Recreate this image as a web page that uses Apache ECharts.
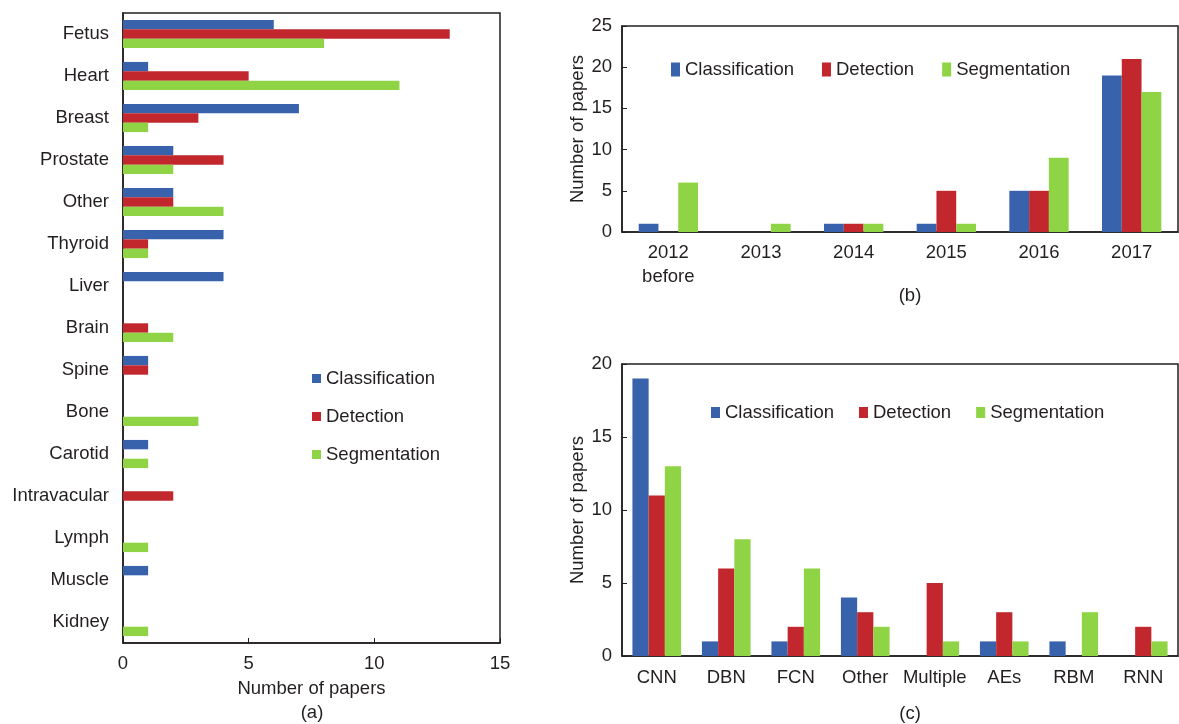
<!DOCTYPE html>
<html>
<head>
<meta charset="utf-8">
<script src="https://cdn.jsdelivr.net/npm/echarts@6/dist/echarts.min.js"></script>
<style>
html,body{margin:0;padding:0;background:#fff;}
#main{width:1179px;height:724px;}
</style>
</head>
<body>
<div id="main"></div>
<script>
// ---- Data ----
const seriesNames = ['Classification', 'Detection', 'Segmentation'];

// (a) by anatomy
const organs = ['Fetus','Heart','Breast','Prostate','Other','Thyroid','Liver','Brain','Spine','Bone','Carotid','Intravacular','Lymph','Muscle','Kidney'];
const organClassification = [6,1,7,2,2,4,4,0,1,0,1,0,0,1,0];
const organDetection      = [13,5,3,4,2,1,0,1,1,0,0,2,0,0,0];
const organSegmentation   = [8,11,1,2,4,1,0,2,0,3,1,0,1,0,1];

// (b) by year
const years = ['2012\nbefore','2013','2014','2015','2016','2017'];
const yearClassification = [1,0,1,1,5,19];
const yearDetection      = [0,0,1,5,5,21];
const yearSegmentation   = [6,1,1,1,9,17];

// (c) by method
const methods = ['CNN','DBN','FCN','Other','Multiple','AEs','RBM','RNN'];
const methodClassification = [19,1,1,4,0,1,1,0];
const methodDetection      = [11,6,2,3,5,3,0,2];
const methodSegmentation   = [13,8,6,2,1,1,3,1];

// ---- Styling ----
const colors = ['#3862ac', '#c1272d', '#8fd444'];
const FONT = 'Liberation Sans, Arial, sans-serif';
const FS = 18.5;
const TXT = '#231f20';
const AX = '#231f20';

const chart = echarts.init(document.getElementById('main'), null, {renderer: 'canvas'});

function lbl(extra) {
  return Object.assign({color: TXT, fontSize: FS, fontFamily: FONT}, extra);
}
function valueAxisCommon(extra) {
  return Object.assign({
    type: 'value',
    axisLine: {show: true, lineStyle: {color: AX, width: 1.5}},
    axisTick: {show: true, inside: true, length: 5, lineStyle: {color: AX}},
    splitLine: {show: false},
    axisLabel: lbl({}),
    nameTextStyle: lbl({})
  }, extra);
}
function catAxisCommon(extra) {
  return Object.assign({
    type: 'category',
    axisLine: {show: true, lineStyle: {color: AX, width: 1.5}},
    axisTick: {show: false},
    splitLine: {show: false},
    axisLabel: lbl({interval: 0})
  }, extra);
}
function barSeries(name, data, xi, yi, colorIdx, gap) {
  return {
    name: name, type: 'bar', data: data,
    xAxisIndex: xi, yAxisIndex: yi,
    barGap: '0%', barCategoryGap: gap,
    itemStyle: {color: colors[colorIdx]},
    animation: false
  };
}
const legendText = lbl({});
const titleStyle = {color: TXT, fontSize: FS, fontWeight: 'normal', fontFamily: FONT};

const option = {
  backgroundColor: '#fff',
  color: colors,
  animation: false,
  title: [
    {text: '(a)', left: 307, top: 698, textAlign: 'center', textStyle: titleStyle},
    {text: '(b)', left: 905, top: 281, textAlign: 'center', textStyle: titleStyle},
    {text: '(c)', left: 905, top: 699, textAlign: 'center', textStyle: titleStyle}
  ],
  legend: [
    {data: seriesNames, orient: 'vertical', left: 312, top: 369, padding: 0, itemWidth: 9, itemHeight: 9, itemGap: 19, textStyle: legendText, icon: 'rect', selectedMode: false},
    {data: seriesNames, orient: 'horizontal', left: 671, top: 60, padding: 0, itemWidth: 9, itemHeight: 14, itemGap: 28, textStyle: legendText, icon: 'rect', selectedMode: false},
    {data: seriesNames, orient: 'horizontal', left: 711, top: 403, padding: 0, itemWidth: 9, itemHeight: 11, itemGap: 25, textStyle: legendText, icon: 'rect', selectedMode: false}
  ],
  grid: [
    {left: 123, top: 13, width: 377, height: 630, show: true, borderColor: AX, borderWidth: 1.5, containLabel: false},
    {left: 622, top: 26, right: 1, height: 206, show: true, borderColor: AX, borderWidth: 1.5, containLabel: false},
    {left: 622, top: 364, right: 1, height: 292, show: true, borderColor: AX, borderWidth: 1.5, containLabel: false}
  ],
  xAxis: [
    valueAxisCommon({gridIndex: 0, min: 0, max: 15, interval: 5, name: 'Number of papers', nameLocation: 'middle', nameGap: 36,
      axisLabel: lbl({margin: 11})}),
    catAxisCommon({gridIndex: 1, data: years, axisLabel: lbl({interval: 0, margin: 9, lineHeight: 24})}),
    catAxisCommon({gridIndex: 2, data: methods, axisLabel: lbl({interval: 0, margin: 12})})
  ],
  yAxis: [
    catAxisCommon({gridIndex: 0, data: organs, inverse: true, axisLabel: lbl({interval: 0, margin: 14})}),
    valueAxisCommon({gridIndex: 1, min: 0, max: 25, interval: 5, name: 'Number of papers', nameLocation: 'middle', nameGap: 32,
      axisLabel: lbl({margin: 10})}),
    valueAxisCommon({gridIndex: 2, min: 0, max: 20, interval: 5, name: 'Number of papers', nameLocation: 'middle', nameGap: 32,
      axisLabel: lbl({margin: 10})})
  ],
  series: [
    barSeries('Classification', organClassification, 0, 0, 0, '33%'),
    barSeries('Detection', organDetection, 0, 0, 1, '33%'),
    barSeries('Segmentation', organSegmentation, 0, 0, 2, '33%'),
    barSeries('Classification', yearClassification, 1, 1, 0, '36%'),
    barSeries('Detection', yearDetection, 1, 1, 1, '36%'),
    barSeries('Segmentation', yearSegmentation, 1, 1, 2, '36%'),
    barSeries('Classification', methodClassification, 2, 2, 0, '30%'),
    barSeries('Detection', methodDetection, 2, 2, 1, '30%'),
    barSeries('Segmentation', methodSegmentation, 2, 2, 2, '30%')
  ]
};
chart.setOption(option);
</script>
</body>
</html>
